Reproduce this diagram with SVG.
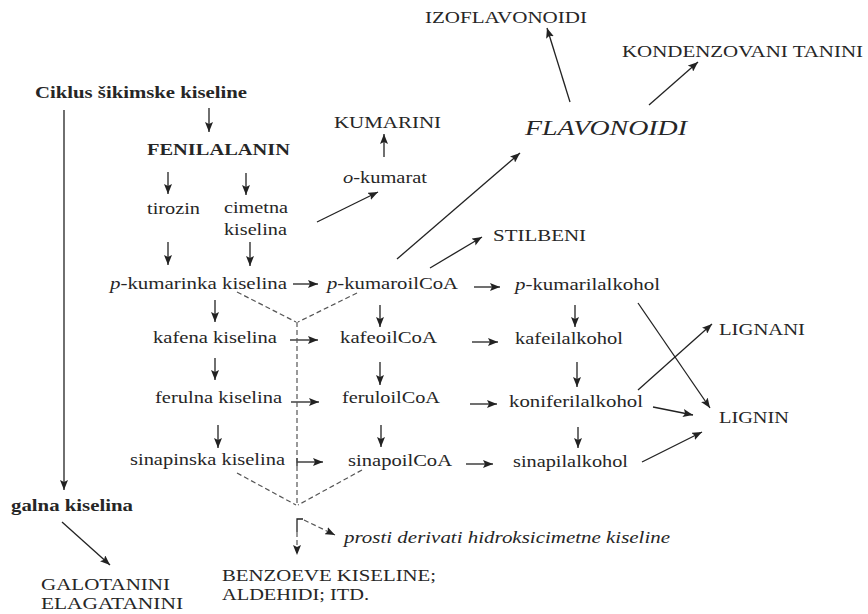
<svg xmlns="http://www.w3.org/2000/svg" width="868" height="614" viewBox="0 0 868 614" font-family="Liberation Serif, Times New Roman, serif">
<style>
text{font-family:'Liberation Serif','Times New Roman',serif;font-size:17px;fill:#262626}
.b{font-weight:bold}
.i{font-style:italic}
.sm{font-size:16px}
.ln{stroke:#222;stroke-width:1.3;fill:none}
.ar{stroke:#222;stroke-width:1.3;fill:none;marker-end:url(#ah)}
.ds{stroke:#555;stroke-width:1.2;fill:none;stroke-dasharray:5 3}
.dsa{stroke:#555;stroke-width:1.2;fill:none;stroke-dasharray:5 3;marker-end:url(#ah)}
</style>
<defs>
<marker id="ah" viewBox="0 0 10 8" refX="10" refY="4" markerWidth="10" markerHeight="8" orient="auto" markerUnits="userSpaceOnUse"><path d="M0,0 L10,4 L0,8 L2,4 z" fill="#222"/></marker>
</defs>
<rect width="868" height="614" fill="#fff"/>
<g id="n-ciklus"><text class="b" x="35" y="98" textLength="212" lengthAdjust="spacingAndGlyphs">Ciklus šikimske kiseline</text></g>
<g id="n-fenilalanin"><text class="b" x="147" y="155" textLength="143" lengthAdjust="spacingAndGlyphs">FENILALANIN</text></g>
<g id="n-tirozin"><text x="147" y="214" textLength="53" lengthAdjust="spacingAndGlyphs">tirozin</text></g>
<g id="n-cimetna"><text x="224" y="213" textLength="64" lengthAdjust="spacingAndGlyphs">cimetna</text><text x="224" y="235" textLength="63" lengthAdjust="spacingAndGlyphs">kiselina</text></g>
<g id="n-okumarat"><text x="343" y="183" textLength="84" lengthAdjust="spacingAndGlyphs"><tspan class="i">o</tspan>-kumarat</text></g>
<g id="n-kumarini"><text x="334" y="128" textLength="107" lengthAdjust="spacingAndGlyphs">KUMARINI</text></g>
<g id="n-flavonoidi"><text class="i" x="525" y="135" style="font-size:21px" textLength="162" lengthAdjust="spacingAndGlyphs">FLAVONOIDI</text></g>
<g id="n-izoflavonoidi"><text x="425" y="23" textLength="162" lengthAdjust="spacingAndGlyphs">IZOFLAVONOIDI</text></g>
<g id="n-kondenzovani"><text x="622" y="57" textLength="241" lengthAdjust="spacingAndGlyphs">KONDENZOVANI TANINI</text></g>
<g id="n-stilbeni"><text x="493" y="241" textLength="93" lengthAdjust="spacingAndGlyphs">STILBENI</text></g>
<g id="n-pkumarinka"><text x="110" y="289" textLength="177" lengthAdjust="spacingAndGlyphs"><tspan class="i">p</tspan>-kumarinka kiselina</text></g>
<g id="n-pkumaroilcoa"><text x="327" y="289" textLength="131" lengthAdjust="spacingAndGlyphs"><tspan class="i">p</tspan>-kumaroilCoA</text></g>
<g id="n-pkumarilalkohol"><text x="515" y="290" textLength="145" lengthAdjust="spacingAndGlyphs"><tspan class="i">p</tspan>-kumarilalkohol</text></g>
<g id="n-kafena"><text x="153" y="343" textLength="124" lengthAdjust="spacingAndGlyphs">kafena kiselina</text></g>
<g id="n-kafeoilcoa"><text x="340" y="343" textLength="97" lengthAdjust="spacingAndGlyphs">kafeoilCoA</text></g>
<g id="n-kafeilalkohol"><text x="515" y="344" textLength="108" lengthAdjust="spacingAndGlyphs">kafeilalkohol</text></g>
<g id="n-ferulna"><text x="155" y="403" textLength="127" lengthAdjust="spacingAndGlyphs">ferulna kiselina</text></g>
<g id="n-feruloilcoa"><text x="342" y="403" textLength="98" lengthAdjust="spacingAndGlyphs">feruloilCoA</text></g>
<g id="n-koniferilalkohol"><text x="509" y="407" textLength="134" lengthAdjust="spacingAndGlyphs">koniferilalkohol</text></g>
<g id="n-sinapinska"><text x="130" y="465" textLength="155" lengthAdjust="spacingAndGlyphs">sinapinska kiselina</text></g>
<g id="n-sinapoilcoa"><text x="348" y="466" textLength="104" lengthAdjust="spacingAndGlyphs">sinapoilCoA</text></g>
<g id="n-sinapilalkohol"><text x="513" y="467" textLength="115" lengthAdjust="spacingAndGlyphs">sinapilalkohol</text></g>
<g id="n-lignani"><text x="719" y="335" textLength="86" lengthAdjust="spacingAndGlyphs">LIGNANI</text></g>
<g id="n-lignin"><text x="719" y="423" textLength="70" lengthAdjust="spacingAndGlyphs">LIGNIN</text></g>
<g id="n-galna"><text class="b" x="11" y="511" textLength="122" lengthAdjust="spacingAndGlyphs">galna kiselina</text></g>
<g id="n-galotanini"><text class="sm" x="41" y="590" textLength="129" lengthAdjust="spacingAndGlyphs">GALOTANINI</text><text class="sm" x="41" y="609" textLength="142" lengthAdjust="spacingAndGlyphs">ELAGATANINI</text></g>
<g id="n-benzoeve"><text class="sm" x="222" y="581" textLength="214" lengthAdjust="spacingAndGlyphs">BENZOEVE KISELINE;</text><text class="sm" x="222" y="600" textLength="147" lengthAdjust="spacingAndGlyphs">ALDEHIDI; ITD.</text></g>
<g id="n-prosti"><text class="i" x="344" y="543" textLength="326" lengthAdjust="spacingAndGlyphs">prosti derivati hidroksicimetne kiseline</text></g>
<g id="connectors">
<line class="ar" x1="209" y1="108" x2="209" y2="132"/>
<line class="ar" x1="168" y1="172" x2="168" y2="194"/>
<line class="ar" x1="246" y1="173" x2="246" y2="195"/>
<line class="ar" x1="168" y1="242" x2="168" y2="265"/>
<line class="ar" x1="250" y1="242" x2="250" y2="266"/>
<line class="ar" x1="215" y1="300" x2="215" y2="322"/>
<line class="ar" x1="215" y1="358" x2="215" y2="380"/>
<line class="ar" x1="218" y1="425" x2="218" y2="448"/>
<line class="ar" x1="380" y1="305" x2="380" y2="327"/>
<line class="ar" x1="380" y1="362" x2="380" y2="385"/>
<line class="ar" x1="381" y1="425" x2="381" y2="447"/>
<line class="ar" x1="575" y1="305" x2="575" y2="327"/>
<line class="ar" x1="577" y1="362" x2="577" y2="387"/>
<line class="ar" x1="578" y1="427" x2="578" y2="448"/>
<line class="ar" x1="384" y1="157" x2="384" y2="134"/>
<line class="ar" x1="293" y1="284" x2="318" y2="284"/>
<line class="ar" x1="290" y1="340" x2="318" y2="340"/>
<line class="ar" x1="291" y1="402" x2="319" y2="402"/>
<line class="ar" x1="297" y1="462" x2="323" y2="462"/>
<line class="ln" x1="297" y1="458" x2="297" y2="466"/>
<line class="ar" x1="474" y1="287" x2="500" y2="287"/>
<line class="ar" x1="472" y1="342" x2="498" y2="342"/>
<line class="ar" x1="470" y1="404" x2="497" y2="404"/>
<line class="ar" x1="466" y1="464" x2="493" y2="464"/>
<line class="ar" x1="317" y1="222" x2="378" y2="192"/>
<line class="ar" x1="397" y1="259" x2="520" y2="153"/>
<line class="ar" x1="430" y1="268" x2="482" y2="237"/>
<line class="ar" x1="570" y1="102" x2="547" y2="28"/>
<line class="ar" x1="649" y1="105" x2="698" y2="62"/>
<line class="ar" x1="638" y1="303" x2="710" y2="408"/>
<line class="ar" x1="638" y1="390" x2="712" y2="324"/>
<line class="ar" x1="653" y1="407" x2="693" y2="415"/>
<line class="ar" x1="642" y1="462" x2="702" y2="432"/>
<line class="ar" x1="64" y1="110" x2="64" y2="490"/>
<line class="ar" x1="62" y1="522" x2="110" y2="565"/>
<line class="ds" x1="237" y1="292" x2="296" y2="322"/>
<line class="ds" x1="357" y1="293" x2="298" y2="322"/>
<line class="ds" x1="297" y1="322" x2="297" y2="505"/>
<line class="ds" x1="237" y1="473" x2="296" y2="505"/>
<line class="ds" x1="362" y1="470" x2="298" y2="505"/>
<polyline class="ln" points="297,532 297,519 303,519"/>
<line class="dsa" x1="304" y1="520" x2="335" y2="535"/>
<line class="dsa" x1="297" y1="532" x2="297" y2="555"/>
</g>
</svg>
